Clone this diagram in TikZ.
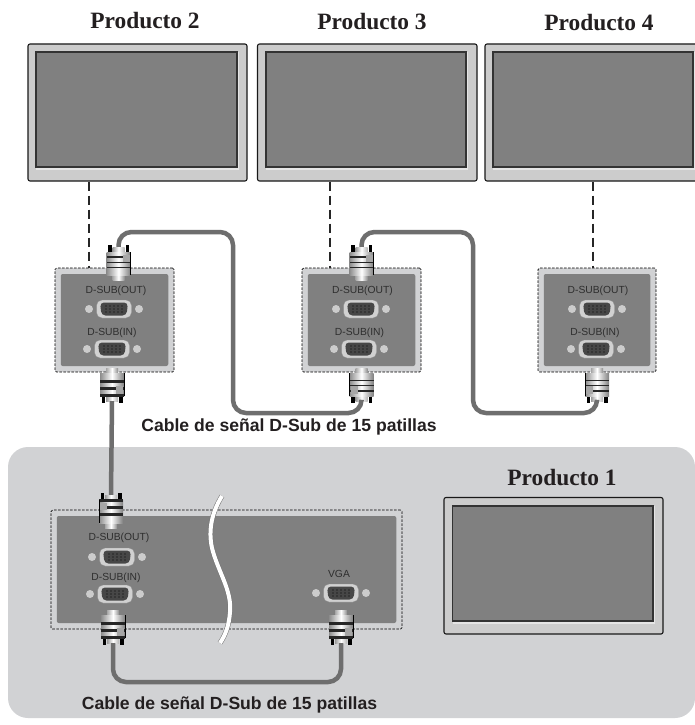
\documentclass[tikz,border=0pt]{standalone}
\usepackage{fontspec}
\setmainfont{Liberation Serif}
\setsansfont{Liberation Sans}
\definecolor{bggray}{HTML}{D1D2D4}
\definecolor{frame}{HTML}{CCCCCC}
\definecolor{scr}{HTML}{808080}
\definecolor{cablec}{HTML}{6E6E6E}
\definecolor{txt}{HTML}{231F20}
\tikzset{
  title/.style={font=\fontsize{23.4}{26}\selectfont\rmfamily\bfseries,text=txt,inner sep=0pt},
  caption/.style={font=\fontsize{17.6}{20}\selectfont\sffamily\bfseries,text=txt,inner sep=0pt},
  portlabel/.style={font=\fontsize{10.3}{12}\selectfont\sffamily,text=black!82,inner sep=0pt},
  monitorbox/.style={draw=black!90,line width=1.1pt,fill=frame,rounded corners=2pt,inner sep=0pt,minimum width=#1pt},
  screenbox/.style={draw=black!80,line width=1.3pt,fill=scr,inner sep=0pt,minimum width=#1pt},
  panelbox/.style={draw=black,line width=.7pt,dash pattern=on 2.5pt off 1.5pt,fill=bggray,inner sep=0pt,rounded corners=1.5pt},
  facebox/.style={fill=scr,inner sep=0pt,rounded corners=2pt},
  plugbox/.style={inner sep=0pt,minimum width=24pt,minimum height=28pt},
  wire/.style={draw=black!85,line width=2.8pt,dash pattern=on 9pt off 5pt},
  cable/.style={draw=cablec,line width=4.5pt,rounded corners=13pt},
  straightcable/.style={draw=cablec,line width=4.5pt},
}
% monitor: name, x0, y0, x1, y1, screen x0, y0, x1, y1
\newcommand{\monitor}[9]{%
  \pgfmathsetmacro{\mw}{#4-#2}\pgfmathsetmacro{\mh}{#5-#3}%
  \pgfmathsetmacro{\mcx}{(#4+#2)/2}\pgfmathsetmacro{\mcy}{(#5+#3)/2}%
  \node[monitorbox=\mw,minimum height=\mh pt] (#1) at (\mcx,\mcy) {};
  \fill[white!90!black] (#6,#7) rectangle ({#8+2},{#9+2.5});
  \pgfmathsetmacro{\mw}{#8-#6}\pgfmathsetmacro{\mh}{#9-#7}%
  \pgfmathsetmacro{\mcx}{(#8+#6)/2}\pgfmathsetmacro{\mcy}{(#9+#7)/2}%
  \node[screenbox=\mw,minimum height=\mh pt] (#1s) at (\mcx,\mcy) {};
}
% panel: name, x0,y0,x1,y1
\newcommand{\panel}[5]{%
  \pgfmathsetmacro{\mw}{#4-#2}\pgfmathsetmacro{\mh}{#5-#3}%
  \pgfmathsetmacro{\mcx}{(#4+#2)/2}\pgfmathsetmacro{\mcy}{(#5+#3)/2}%
  \node[panelbox,minimum width=\mw pt,minimum height=\mh pt] (#1) at (\mcx,\mcy) {};
  \pgfmathsetmacro{\mw}{#4-#2-11.5}\pgfmathsetmacro{\mh}{#5-#3-12}%
  \node[facebox,minimum width=\mw pt,minimum height=\mh pt] (#1f) at (\mcx,\mcy) {};
}
% port: name, x, y
\newcommand{\port}[3]{%
  \fill[frame] ({#2-25},#3) circle (4);
  \fill[frame] ({#2+25},#3) circle (4);
  \node[fill=white!82!black,draw=black!45,line width=.3pt,rounded corners=5.5pt,inner sep=0pt,minimum width=35pt,minimum height=18pt] (#1) at (#2,#3) {};
  \fill[black!72,rounded corners=4pt] ({#2-14},{#3-6.5}) -- ({#2+14},{#3-6.5}) -- ({#2+12.5},{#3+6.5}) -- ({#2-12.5},{#3+6.5}) -- cycle;
  \foreach \dx in {-8,-4,0,4,8} \foreach \dy in {-3,0,3}
    \fill[black] ({#2+\dx},{#3+\dy}) circle (.55);
}
% plug: name, body centre x, y of panel-side body end, direction (1 down/-1 up), xflip, stripe width
\newcommand{\plug}[6]{%
  \begin{scope}[shift={(#2,#3)},yscale=#4,xscale=#5]
    \shade[left color=black!35,right color=black!45,middle color=white] (-6,-5) rectangle (6,0);
    \fill[black] (-10.5,23.5) rectangle (-7,30);
    \fill[black] (7,23.5) rectangle (10.5,30);
    \shade[left color=black!40,right color=black!30,middle color=white] (-6,23) rectangle (6,28);
    \shade[left color=black!45,right color=black!50,middle color=white] (-12,0) rectangle (12,23);
    \fill[black!85] (-12,7) rectangle (12,{7+#6});
    \fill[black!85] (-12,{11+#6}) rectangle (12,{11+2*#6});
    \fill[black!85] (-12,{15+2*#6}) rectangle (12,{15+3*#6});
    \draw[black,line width=.5pt] (12,0) -- (12,23);
    \fill[black!35] (4,13) rectangle (11,20.5);
  \end{scope}
  \pgfmathsetmacro{\mcy}{#3+14*#4}%
  \node[plugbox] (#1) at (#2,\mcy) {};
}
\begin{document}
\begin{tikzpicture}[x=1pt,y=-1pt]
  \useasboundingbox (0,0) rectangle (695,725);
  \clip (0,0) rectangle (695,725);
  \fill[white] (0,0) rectangle (695,725);
  \fill[bggray,rounded corners=20pt] (8,447) rectangle (695,718);

  % titles
  \node[title] (t2) at (145,21) {Producto 2};
  \node[title] (t3) at (372,22) {Producto 3};
  \node[title] (t4) at (599,23) {Producto 4};
  \node[title] (t1) at (562,478) {Producto 1};

  % monitors
  \monitor{m2}{28}{44}{247}{181}{36}{52}{237}{167}
  \monitor{m3}{257.5}{44}{477}{181}{266}{52}{466}{167}
  \monitor{m4}{485}{44}{706}{181}{493}{52}{693}{167}
  \monitor{m1}{444}{497.5}{663}{634}{452.5}{506}{653}{621}

  % side panels
  \panel{pa}{55}{268}{174}{372}
  \panel{pb}{302}{268}{421}{372}
  \panel{pc}{538}{268}{656}{372}
  \panel{pd}{51}{510}{402}{629}

  % dashed links
  \coordinate (da) at (89,268);
  \coordinate (db) at (330,268);
  \coordinate (dc) at (593,268);
  \draw[wire] (da |- m2.south) -- (da |- pa.north);
  \draw[wire] (db |- m3.south) -- (db |- pb.north);
  \draw[wire] (dc |- m4.south) -- (dc |- pc.north);

  % break mark
  \draw[black!55,line width=5pt] (222,496) .. controls (212,512) and (208,530) .. (212,548) .. controls (218,572) and (232,590) .. (230,612) .. controls (229,625) and (226,634) .. (220,643);
  \draw[white,line width=4pt] (222,496) .. controls (212,512) and (208,530) .. (212,548) .. controls (218,572) and (232,590) .. (230,612) .. controls (229,625) and (226,634) .. (220,643);

  % ports and labels
  \node[portlabel] (la1) at (116,291) {D-SUB(OUT)};
  \node[portlabel] (la2) at (112,332.5) {D-SUB(IN)};
  \port{paout}{114}{309}
  \port{pain}{112}{349}
  \node[portlabel] (lb1) at (362.5,291) {D-SUB(OUT)};
  \node[portlabel] (lb2) at (359.5,332.5) {D-SUB(IN)};
  \port{pbout}{361}{309}
  \port{pbin}{359}{349}
  \node[portlabel] (lc1) at (598,291) {D-SUB(OUT)};
  \node[portlabel] (lc2) at (595,332.5) {D-SUB(IN)};
  \port{pcout}{597}{309}
  \port{pcin}{596}{349}
  \node[portlabel] (ld1) at (119,538) {D-SUB(OUT)};
  \node[portlabel] (ld2) at (116,578) {D-SUB(IN)};
  \port{pdout}{117}{557}
  \port{pdin}{115}{594}
  \node[portlabel] (ld3) at (339,574) {VGA};
  \port{pdvga}{341}{593}

  % cables
  \plug{ua}{118.5}{275}{-1}{1}{1.2}
  \plug{ub}{361.5}{275}{-1}{1}{1.2}
  \plug{la}{112}{373}{1}{1}{3}
  \plug{lb}{361.5}{373}{1}{-1}{1.2}
  \plug{lc}{597}{373}{1}{-1}{1.2}
  \plug{ud}{111}{523}{-1}{-1}{3}
  \plug{ld}{113}{615}{1}{1}{3}
  \plug{lv}{341}{615}{1}{1}{3}
  \coordinate (c1a) at (233,232);
  \coordinate (c1b) at (233,413);
  \coordinate (c2a) at (473,232);
  \coordinate (c2b) at (473,413);
  \coordinate (c3a) at (220,682);
  \draw[cable] (ua.north) |- (c1a) -- (c1b) -| (lb.south);
  \draw[cable] (ub.north) |- (c2a) -- (c2b) -| (lc.south);
  \draw[straightcable] (la.south) -- (ud.north);
  \draw[cable] (ld.south) |- (c3a) -| (lv.south);

  % captions
  \node[caption] (cap1) at (289,427) {Cable de señal D-Sub de 15 patillas};
  \node[caption] (cap2) at (229.5,705) {Cable de señal D-Sub de 15 patillas};
\end{tikzpicture}
\end{document}
